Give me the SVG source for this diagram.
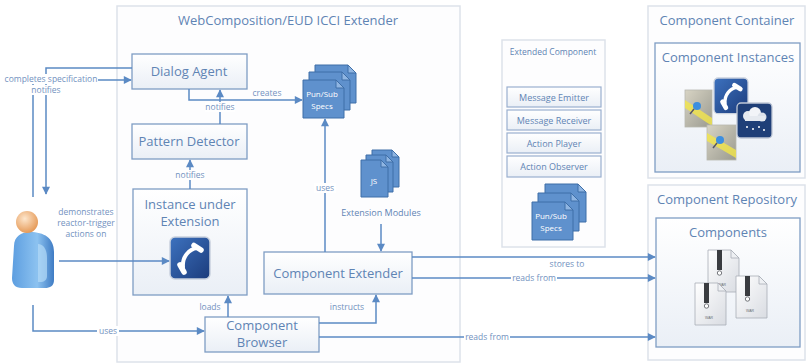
<svg xmlns="http://www.w3.org/2000/svg" width="807" height="364" viewBox="0 0 807 364">
  <style>
    .panel { fill: #fdfdfe; stroke: #dde2ea; stroke-width: 1.5; }
    .box { fill: url(#boxFill); stroke: #7f9dc4; stroke-width: 1.3; }
    .sub { fill: url(#boxFill); stroke: #9ab0cf; stroke-width: 1.2; }
    .title { font-family: "Open Sans", "Liberation Sans", sans-serif; fill: #5f84b4; text-anchor: middle; }
    .big { font-size: 13px; }
    .lbl { font-family: "Open Sans", "Liberation Sans", sans-serif; font-size: 8.5px; fill: #7392c0; text-anchor: middle; }
    .wire { fill: none; stroke: #5b8ac4; stroke-width: 1.5; }
    .tag { fill: #ffffff; }
    .doc { fill: #5f91cd; stroke: #3f6fa8; stroke-width: 1; }
    .fold { fill: #8fb5e2; stroke: #3f6fa8; stroke-width: 1; }
    .docText { font-family: "Open Sans", "Liberation Sans", sans-serif; font-size: 8px; fill: #ffffff; text-anchor: middle; }
  </style>
  <defs>
    <linearGradient id="boxFill" x1="0" y1="0" x2="0" y2="1">
      <stop offset="0" stop-color="#ffffff"/>
      <stop offset="1" stop-color="#eaeff6"/>
    </linearGradient>
    <linearGradient id="phoneFill" x1="0" y1="0" x2="1" y2="1">
      <stop offset="0" stop-color="#3d72bf"/>
      <stop offset="1" stop-color="#1c3c7c"/>
    </linearGradient>
    <radialGradient id="skin" cx="0.4" cy="0.35" r="0.7">
      <stop offset="0" stop-color="#fde6cc"/>
      <stop offset="1" stop-color="#e49550"/>
    </radialGradient>
    <linearGradient id="shirt" x1="0" y1="0" x2="1" y2="0">
      <stop offset="0" stop-color="#5d9ee0"/>
      <stop offset="0.6" stop-color="#8cc2f0"/>
      <stop offset="1" stop-color="#3f7cc4"/>
    </linearGradient>
    <linearGradient id="warFill" x1="0" y1="0" x2="1" y2="1">
      <stop offset="0" stop-color="#ffffff"/>
      <stop offset="1" stop-color="#d9dce2"/>
    </linearGradient>
    <linearGradient id="mapFill" x1="0" y1="0" x2="1" y2="1">
      <stop offset="0" stop-color="#d8d4c4"/>
      <stop offset="1" stop-color="#9a9a90"/>
    </linearGradient>
    <marker id="arrow" viewBox="0 0 10 10" refX="9" refY="5" markerWidth="9" markerHeight="8" markerUnits="userSpaceOnUse" orient="auto">
      <path d="M0,0 L10,5 L0,10 Z" fill="#5b8ac4"/>
    </marker>
    <!-- page with a folded corner, 41 x 38 -->
    <g id="specPage">
      <path class="doc" d="M0,0 H33 L41,8 V38 H0 Z"/>
      <path class="fold" d="M33,0 V8 H41 Z"/>
    </g>
    <!-- narrower page, 27 x 37 -->
    <g id="jsPage">
      <path class="doc" d="M0,0 H20 L27,7 V37 H0 Z"/>
      <path class="fold" d="M20,0 V7 H27 Z"/>
    </g>
    <!-- archive page with zipper strip -->
    <g id="warPage">
      <path d="M0,0 H23 L31,8 V42 H0 Z" fill="url(#warFill)" stroke="#a8adb6" stroke-width="0.8"/>
      <path d="M23,0 V8 H31 Z" fill="#eef0f3" stroke="#a8adb6" stroke-width="0.8"/>
      <rect x="9" y="0" width="5" height="20" fill="#3a3c40"/>
      <circle cx="11.5" cy="23" r="2.2" fill="#ffffff" stroke="#55585e" stroke-width="0.8"/>
      <text x="14" y="36" font-family="Liberation Sans, sans-serif" font-size="3.5" fill="#6a6e76" text-anchor="middle">WAR</text>
    </g>
    <!-- phone tile, 40 x 42 -->
    <g id="phoneTile">
      <rect x="0" y="0" width="40" height="42" rx="5" fill="url(#phoneFill)" stroke="#c9d1de" stroke-width="1.5"/>
      <path d="M27,11 C19,12 12,20 13,30" fill="none" stroke="#ffffff" stroke-width="4" stroke-linecap="round"/>
      <path d="M24,8.5 L31,13" stroke="#ffffff" stroke-width="5.5" stroke-linecap="round"/>
      <path d="M10,28 L14,35" stroke="#ffffff" stroke-width="5.5" stroke-linecap="round"/>
    </g>
  </defs>

  <!-- Extender panel -->
  <g id="extender-panel">
    <rect class="panel" x="117" y="6" width="343" height="356"/>
    <text class="title big" x="288" y="25">WebComposition/EUD ICCI Extender</text>
  </g>

  <!-- Extended Component panel -->
  <g id="extended-component">
    <rect class="panel" x="502" y="40" width="103" height="207"/>
    <text class="title" x="553" y="55" font-size="8.5">Extended Component</text>
    <rect class="sub" x="507" y="87" width="94" height="20"/>
    <text class="title" x="554" y="101" font-size="9">Message Emitter</text>
    <rect class="sub" x="507" y="110" width="94" height="20"/>
    <text class="title" x="554" y="124" font-size="9">Message Receiver</text>
    <rect class="sub" x="507" y="133" width="94" height="20"/>
    <text class="title" x="554" y="147" font-size="9">Action Player</text>
    <rect class="sub" x="507" y="156" width="94" height="21"/>
    <text class="title" x="554" y="170" font-size="9">Action Observer</text>
    <use href="#specPage" x="545" y="184"/>
    <use href="#specPage" x="538" y="193"/>
    <use href="#specPage" x="532" y="202"/>
    <text class="docText" x="551" y="219">Pun/Sub</text>
    <text class="docText" x="551" y="231">Specs</text>
  </g>

  <!-- Component Container -->
  <g id="component-container">
    <rect class="panel" x="648" y="6" width="157" height="172"/>
    <text class="title big" x="727" y="25">Component Container</text>
    <rect class="box" x="655" y="43" width="145" height="129" stroke="#8aa2c4"/>
    <text class="title big" x="728" y="62">Component Instances</text>
    <g id="map-a">
      <rect x="685" y="90" width="27" height="37" fill="url(#mapFill)" stroke="#b8b8b0" stroke-width="0.8"/>
      <path d="M685,100 L712,118 L712,126 L685,108 Z" fill="#f2e64a" opacity="0.8"/>
      <circle cx="697" cy="106" r="4" fill="#3c8ee0"/>
      <path d="M694,109 L690,114" stroke="#556" stroke-width="1.5"/>
    </g>
    <g id="map-b">
      <rect x="707" y="125" width="29" height="35" fill="url(#mapFill)" stroke="#b8b8b0" stroke-width="0.8"/>
      <path d="M707,133 L736,150 L736,158 L707,141 Z" fill="#f2e64a" opacity="0.8"/>
      <circle cx="720" cy="140" r="4" fill="#3c8ee0"/>
      <path d="M717,143 L713,148" stroke="#556" stroke-width="1.5"/>
    </g>
    <use href="#phoneTile" transform="translate(714,78) scale(0.85)"/>
    <g id="weather">
      <rect x="737" y="103" width="35" height="35" rx="4" fill="#1f3f78" stroke="#c0c8d6" stroke-width="1.3"/>
      <circle cx="748" cy="116" r="5" fill="#e6eaf0"/>
      <circle cx="755" cy="113" r="6" fill="#f2f4f8"/>
      <circle cx="762" cy="117" r="4.5" fill="#dde2ea"/>
      <rect x="745" y="116" width="20" height="5" fill="#e6eaf0"/>
      <circle cx="747" cy="127" r="1" fill="#ffffff"/>
      <circle cx="753" cy="129" r="1" fill="#ffffff"/>
      <circle cx="759" cy="127" r="1" fill="#ffffff"/>
      <circle cx="764" cy="130" r="1" fill="#ffffff"/>
    </g>
  </g>

  <!-- Component Repository -->
  <g id="component-repository">
    <rect class="panel" x="648" y="185" width="157" height="175"/>
    <text class="title big" x="727" y="204">Component Repository</text>
    <rect class="box" x="656" y="218" width="144" height="129" stroke="#8aa2c4"/>
    <text class="title big" x="728" y="237">Components</text>
    <use href="#warPage" x="708" y="250"/>
    <use href="#warPage" x="736" y="276"/>
    <use href="#warPage" x="695" y="283"/>
  </g>

  <!-- Extender nodes -->
  <g id="dialog-agent">
    <rect class="box" x="132" y="54" width="115" height="35"/>
    <text class="title big" x="189" y="76">Dialog Agent</text>
  </g>
  <g id="pattern-detector">
    <rect class="box" x="132" y="124" width="115" height="35"/>
    <text class="title big" x="189" y="146">Pattern Detector</text>
  </g>
  <g id="instance-under-extension">
    <rect class="box" x="133" y="189" width="114" height="106"/>
    <text class="title big" x="190" y="209">Instance under</text>
    <text class="title big" x="190" y="226">Extension</text>
    <use href="#phoneTile" x="170" y="237"/>
  </g>
  <g id="component-extender">
    <rect class="box" x="264" y="252" width="148" height="42"/>
    <text class="title big" x="338" y="278">Component Extender</text>
  </g>
  <g id="component-browser">
    <rect class="box" x="205" y="317" width="114" height="35"/>
    <text class="title big" x="262" y="330">Component</text>
    <text class="title big" x="262" y="347">Browser</text>
  </g>
  <g id="pubsub-specs">
    <use href="#specPage" x="315" y="65"/>
    <use href="#specPage" x="309" y="72"/>
    <use href="#specPage" x="303" y="80"/>
    <text class="docText" x="322" y="97">Pun/Sub</text>
    <text class="docText" x="322" y="109">Specs</text>
  </g>
  <g id="extension-modules">
    <use href="#jsPage" x="372" y="150"/>
    <use href="#jsPage" x="366" y="155"/>
    <use href="#jsPage" x="361" y="160"/>
    <text class="docText" x="374" y="184" font-size="6">JS</text>
    <text class="title" x="381" y="216" font-size="9">Extension Modules</text>
  </g>

  <!-- User -->
  <g id="user">
    <path d="M14,246 C14,236 22,232 30,232 C44,232 54,238 54,252 L54,280 C54,286 50,288 45,288 L22,288 C15,288 12,284 12,278 Z" fill="url(#shirt)"/>
    <path d="M38,244 C44,244 47,250 47,258 L47,276 C47,280 44,282 40,282 L38,282 Z" fill="#b5dcf8" opacity="0.7"/>
    <circle cx="27" cy="222" r="11" fill="url(#skin)"/>
  </g>

  <!-- Connectors -->
  <g id="connectors">
    <path class="wire" d="M33,197 V80 H131" marker-end="url(#arrow)"/>
    <path class="wire" d="M132,68 H46 V194" marker-end="url(#arrow)"/>
    <path class="wire" d="M189,89 V100 H302" marker-end="url(#arrow)"/>
    <path class="wire" d="M220,124 V90" marker-end="url(#arrow)"/>
    <path class="wire" d="M190,189 V160" marker-end="url(#arrow)"/>
    <path class="wire" d="M59,261 H169" marker-end="url(#arrow)"/>
    <path class="wire" d="M33,305 V331 H204" marker-end="url(#arrow)"/>
    <path class="wire" d="M228,317 V296" marker-end="url(#arrow)"/>
    <path class="wire" d="M319,323 H376 V295" marker-end="url(#arrow)"/>
    <path class="wire" d="M325,252 V119" marker-end="url(#arrow)"/>
    <path class="wire" d="M381,224 V251" marker-end="url(#arrow)"/>
    <path class="wire" d="M412,257 H655" marker-end="url(#arrow)"/>
    <path class="wire" d="M412,278 H655" marker-end="url(#arrow)"/>
    <path class="wire" d="M319,337 H655" marker-end="url(#arrow)"/>

    <!-- labels -->
    <rect class="tag" x="4" y="74" width="94" height="10"/>
    <text class="lbl" x="51" y="82">completes specification</text>
    <rect class="tag" x="32" y="85" width="29" height="10"/>
    <text class="lbl" x="46" y="93">notifies</text>
    <text class="lbl" x="267" y="96">creates</text>
    <rect class="tag" x="205" y="102" width="30" height="10"/>
    <text class="lbl" x="220" y="110">notifies</text>
    <rect class="tag" x="175" y="170" width="30" height="10"/>
    <text class="lbl" x="190" y="178">notifies</text>
    <text class="lbl" x="86" y="215">demonstrates</text>
    <text class="lbl" x="86" y="226">reactor-trigger</text>
    <text class="lbl" x="86" y="237">actions on</text>
    <rect class="tag" x="97" y="326" width="22" height="10"/>
    <text class="lbl" x="108" y="334">uses</text>
    <text class="lbl" x="210" y="310">loads</text>
    <text class="lbl" x="347" y="310">instructs</text>
    <rect class="tag" x="314" y="183" width="22" height="10"/>
    <text class="lbl" x="325" y="191">uses</text>
    <text class="lbl" x="567" y="267">stores to</text>
    <rect class="tag" x="511" y="273" width="46" height="10"/>
    <text class="lbl" x="534" y="281">reads from</text>
    <rect class="tag" x="464" y="332" width="46" height="10"/>
    <text class="lbl" x="487" y="340">reads from</text>
  </g>
</svg>
